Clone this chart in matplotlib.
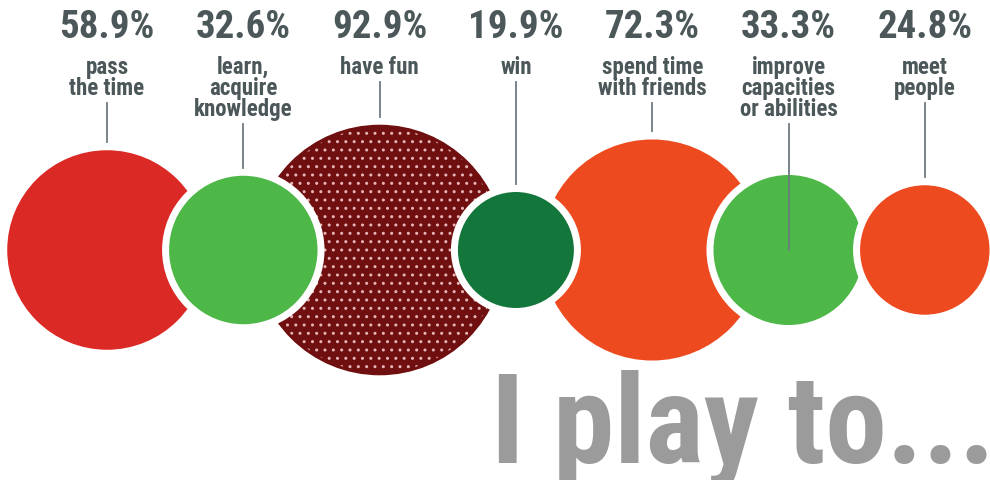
import numpy as np
import matplotlib
matplotlib.use("Agg")
import matplotlib.pyplot as plt
from matplotlib.patches import Circle

# survey answers: "I play to..."
values = [58.9, 32.6, 92.9, 19.9, 72.3, 33.3, 24.8]
labels = ["pass\nthe time", "learn,\nacquire\nknowledge", "have fun", "win",
          "spend time\nwith friends", "improve\ncapacities\nor abilities", "meet\npeople"]
colors = ["#DB2A26", "#4DB748", "#700F10", "#13773B", "#EE4A20", "#4DB748", "#EE4A20"]
dotted = [False, False, True, False, False, False, False]
line_to_center = [False, False, False, False, False, True, False]

W, H = 990, 481
fig = plt.figure(figsize=(W / 100, H / 100), dpi=100)
ax = fig.add_axes([0, 0, 1, 1])
ax.set_xlim(0, W)
ax.set_ylim(H, 0)
ax.set_aspect("equal")
ax.axis("off")

fonts = ["Roboto Condensed", "Barlow Condensed", "DejaVu Sans"]
txt_col = "#4B5759"

k = 13.0          # radius per sqrt(percent), px
x0, step = 107, 136.3
cy = 251
ring = 7          # white separation ring, px

xs = x0 + step * np.arange(len(values))
radii = k * np.sqrt(values)

# smaller bubbles sit on top of bigger ones
order = np.argsort(values)[::-1]
for z, i in enumerate(order):
    r = radii[i]
    c = Circle((xs[i], cy), r + ring / 2, facecolor=colors[i], edgecolor="white",
               linewidth=ring * 0.72, zorder=2 + 2 * z)
    ax.add_patch(c)
    if dotted[i]:
        h = Circle((xs[i], cy), r - 3, facecolor="none", edgecolor="#E6B4B4",
                   linewidth=0, hatch="..", zorder=2 + 2 * z + 1)
        ax.add_patch(h)

for i, (v, lab) in enumerate(zip(values, labels)):
    ax.text(xs[i], 28, f"{v:.1f}%", ha="center", va="center", fontsize=28,
            fontweight="bold", family=fonts, color=txt_col, zorder=30)
    ax.text(xs[i], 56, lab, ha="center", va="top", fontsize=16.5, fontweight="bold",
            family=fonts, color=txt_col, linespacing=0.88, zorder=30)
    nlines = lab.count("\n") + 1
    y_start = 56 + 21 * nlines + 6
    y_end = cy if line_to_center[i] else cy - radii[i] - 8
    ax.plot([xs[i], xs[i]], [y_start, y_end], color="#6E7C80", lw=1.3, zorder=40)

ax.text(995, 463, "I play to...", ha="right", va="baseline", fontsize=89,
        fontweight="bold", family=fonts, color="#9B9B9B", zorder=1)

fig.savefig("out.png", dpi=100, facecolor="white")
